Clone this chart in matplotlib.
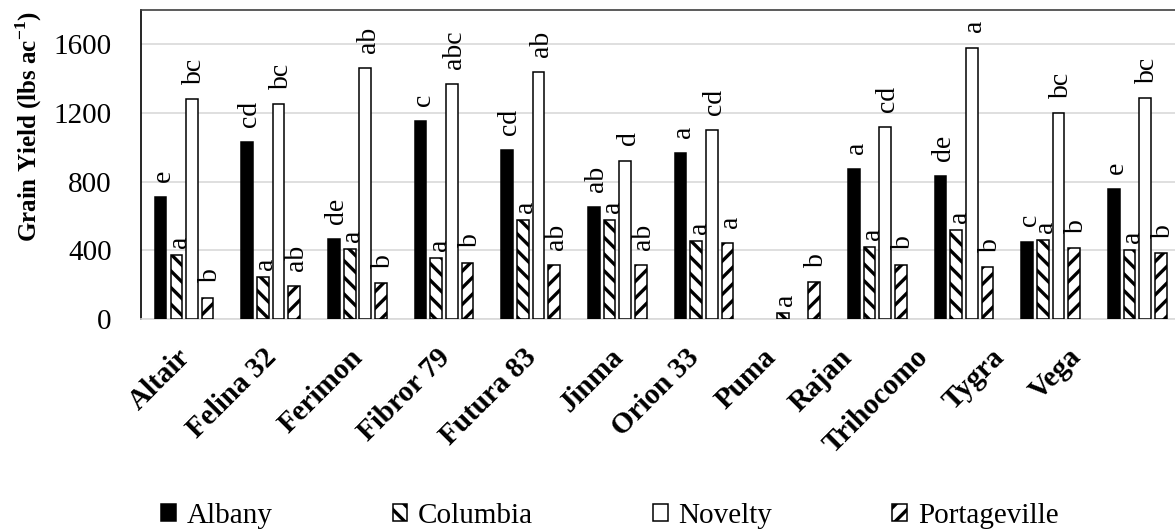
import matplotlib
matplotlib.use("Agg")
import matplotlib.pyplot as plt
import numpy as np

# datos
variedades = ["Altair", "Felina 32", "Ferimon", "Fibror 79", "Futura 83", "Jinma",
              "Orion 33", "Puma", "Rajan", "Trihocomo", "Tygra", "Vega"]

albany = [711, 1030, 465, 1154, 985, 653, 966, np.nan, 873, 832, 450, 756]
columbia = [372, 244, 409, 353, 576, 576, 457, 38, 417, 518, 461, 401]
novelty = [1280, 1251, 1460, 1367, 1437, 923, 1101, np.nan, 1117, 1580, 1198, 1288]
portageville = [124, 190, 207, 329, 314, 314, 442, 215, 316, 304, 413, 382]

letras_albany = ["e", "cd", "de", "c", "cd", "ab", "a", "", "a", "de", "c", "e"]
letras_columbia = ["a"] * 12
letras_novelty = ["bc", "bc", "ab", "abc", "ab", "d", "cd", "", "cd", "a", "bc", "bc"]
letras_portageville = ["b", "ab", "b", "b", "ab", "ab", "a", "b", "b", "b", "b", "b"]

sitios = ["Albany", "Columbia", "Novelty", "Portageville"]
y_ticks = [0, 400, 800, 1200, 1600]

plt.rcParams['font.family'] = ['Liberation Serif', 'DejaVu Serif']
plt.rcParams['mathtext.fontset'] = 'custom'
plt.rcParams['mathtext.rm'] = 'Liberation Serif'
plt.rcParams['mathtext.bf'] = 'Liberation Serif:bold'
plt.rcParams['hatch.linewidth'] = 2.4

fig = plt.figure(figsize=(11.75, 5.31), dpi=100)
ax = fig.add_axes([0.12, 0.3992, 0.885, 0.582])

x = np.arange(len(variedades))
ancho = 0.135
desplaz = [-0.275, -0.092, 0.088, 0.268]
series = [albany, columbia, novelty, portageville]
letras = [letras_albany, letras_columbia, letras_novelty, letras_portageville]
relleno = ['black', 'white', 'white', 'white']
tramas = [None, '\\\\', None, '//']
sep = [11, 5, 11, 11]

barras = []
for k in range(4):
    b = ax.bar(x + desplaz[k], series[k], ancho, color=relleno[k],
               edgecolor='black', linewidth=1.1, hatch=tramas[k],
               label=sitios[k], zorder=3)
    barras.append(b)
    for i in range(len(variedades)):
        v = series[k][i]
        if letras[k][i] == "" or np.isnan(v):
            continue
        ax.annotate(letras[k][i], xy=(x[i] + desplaz[k], v), xytext=(2, sep[k]),
                    textcoords='offset points', rotation=90,
                    ha='center', va='bottom', fontsize=20)

ax.set_xlim(-0.5, 11.5)
ax.set_ylim(0, 1800)
ax.set_yticks(y_ticks)
ax.tick_params(axis='y', length=0, pad=21, labelsize=21)
ax.set_xticks([])

ax.grid(axis='y', color='#d9d9d9', linewidth=1.2, zorder=0)
ax.set_axisbelow(True)
ax.spines['left'].set_color('black')
ax.spines['left'].set_linewidth(1.2)
ax.spines['top'].set_color('#404040')
ax.spines['top'].set_linewidth(1.2)
ax.spines['bottom'].set_color('#d9d9d9')
ax.spines['bottom'].set_linewidth(1.2)
ax.spines['right'].set_visible(False)

# etiquetas del eje x (Excel las corre un poco hacia la izquierda)
for i, nombre in enumerate(variedades):
    xp = i - 0.12 * max(0, i - 5)
    ax.annotate(nombre, xy=(xp, 0), xycoords=('data', 'axes fraction'),
                xytext=(1, -24.5), textcoords='offset points', rotation=45,
                ha='right', va='center', rotation_mode='anchor',
                fontsize=21, fontweight='bold')

ax.set_ylabel(r'Grain Yield (lbs ac$^{\mathbf{-1}}$)', fontsize=18, fontweight='bold')
ax.yaxis.set_label_coords(-0.093, 0.623)

fig.legend(handles=barras, labels=sitios, loc='center', bbox_to_anchor=(0.519, 0.029),
           ncol=4, frameon=False, fontsize=21, handlelength=0.5, handleheight=0.5,
           handletextpad=0.38, columnspacing=4.1)

fig.savefig('out.png', dpi=100)
